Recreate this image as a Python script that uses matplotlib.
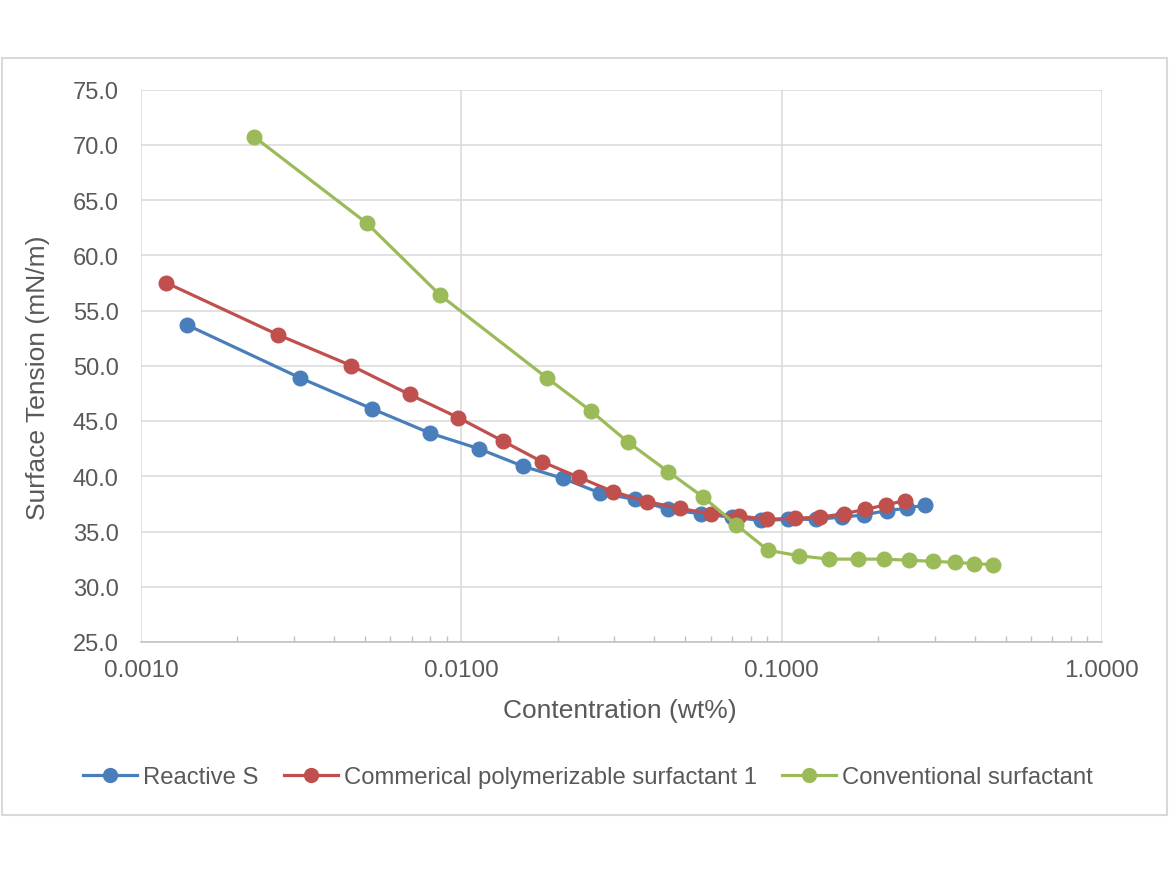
import matplotlib
matplotlib.use("Agg")
import matplotlib.pyplot as plt
from matplotlib.patches import Rectangle
from matplotlib.ticker import FixedLocator, LogLocator, FuncFormatter, NullFormatter

plt.rcParams['font.family'] = ['Liberation Sans', 'DejaVu Sans']

# Data
reactive_x = [0.00139, 0.00314, 0.00527, 0.00799, 0.01132, 0.0156, 0.0208, 0.0270,
              0.0348, 0.0443, 0.0558, 0.0700, 0.0859, 0.105, 0.128, 0.154, 0.181,
              0.213, 0.246, 0.280]
reactive_y = [53.7, 48.9, 46.1, 43.9, 42.5, 40.9, 39.8, 38.5,
              37.9, 37.0, 36.6, 36.3, 36.0, 36.1, 36.1, 36.3, 36.5,
              36.9, 37.1, 37.4]

commercial_x = [0.00120, 0.00268, 0.00454, 0.00689, 0.00979, 0.01345, 0.0179, 0.0233,
                0.0298, 0.0380, 0.0480, 0.0600, 0.0738, 0.0900, 0.1097, 0.132, 0.156,
                0.182, 0.211, 0.243]
commercial_y = [57.5, 52.8, 50.0, 47.4, 45.3, 43.2, 41.3, 39.9,
                38.6, 37.7, 37.1, 36.6, 36.4, 36.1, 36.2, 36.3, 36.6,
                37.0, 37.4, 37.8]

conventional_x = [0.00226, 0.00507, 0.00858, 0.0185, 0.0254, 0.0331, 0.0443, 0.0570,
                  0.0722, 0.0907, 0.1135, 0.1408, 0.1725, 0.209, 0.249, 0.296, 0.348,
                  0.398, 0.457]
conventional_y = [70.7, 62.9, 56.4, 48.9, 45.9, 43.1, 40.4, 38.1,
                  35.6, 33.3, 32.8, 32.5, 32.5, 32.5, 32.4, 32.3, 32.2,
                  32.1, 32.0]

series_names = ["Reactive S", "Commerical polymerizable surfactant 1", "Conventional surfactant"]
series_colors = ["#4A7EBB", "#C0504D", "#9BBB59"]

x_ticks = [0.001, 0.01, 0.1, 1.0]
y_ticks = [25, 30, 35, 40, 45, 50, 55, 60, 65, 70, 75]

W, H = 1170, 878
fig = plt.figure(figsize=(W / 100, H / 100), dpi=100)
fig.patch.set_facecolor("white")

# outer chart border
fig.patches.append(Rectangle((1.5 / W, 1 - 816 / H), (1167 - 1.5) / W, (816 - 59) / H,
                             transform=fig.transFigure, fill=False,
                             edgecolor="#D9D9D9", linewidth=1.5))

ax = fig.add_axes([141 / W, 1 - 643 / H, (1102 - 141) / W, (643 - 90.5) / H])
ax.set_xscale("log")
ax.set_xlim(0.001, 1.0)
ax.set_ylim(25, 75)

grid_c = "#D9D9D9"
txt_c = "#595959"

ax.xaxis.set_major_locator(FixedLocator(x_ticks))
ax.xaxis.set_major_formatter(FuncFormatter(lambda v, p: f"{v:.4f}"))
ax.xaxis.set_minor_locator(LogLocator(base=10, subs=range(2, 10)))
ax.xaxis.set_minor_formatter(NullFormatter())
ax.yaxis.set_major_locator(FixedLocator(y_ticks))
ax.yaxis.set_major_formatter(FuncFormatter(lambda v, p: f"{v:.1f}"))

ax.grid(True, which="major", color=grid_c, linewidth=1.1)
ax.set_axisbelow(True)
for s in ["top", "right", "left"]:
    ax.spines[s].set_visible(False)
ax.spines["bottom"].set_color("#BFBFBF")
ax.spines["bottom"].set_linewidth(1.1)

ax.tick_params(axis="x", which="major", length=0, pad=12, labelsize=17.5, labelcolor=txt_c)
ax.tick_params(axis="x", which="minor", direction="in", length=4, width=1, color="#BFBFBF")
ax.tick_params(axis="y", which="major", length=0, pad=16, labelsize=17, labelcolor=txt_c)

series = [(reactive_x, reactive_y), (commercial_x, commercial_y), (conventional_x, conventional_y)]
for (xs, ys), name, c in zip(series, series_names, series_colors):
    ax.plot(xs, ys, color=c, linewidth=2.3, marker="o", markersize=10.5,
            markerfacecolor=c, markeredgecolor=c, label=name, zorder=3)

fig.text(620 / W, 1 - 711 / H, "Contentration (wt%)", ha="center", va="center",
         fontsize=19, color=txt_c)
fig.text(38 / W, 1 - 378 / H, "Surface Tension (mN/m)", ha="center", va="center",
         rotation=90, fontsize=19, color=txt_c)

handles, labels = ax.get_legend_handles_labels()
leg = fig.legend(handles, labels, loc="center", bbox_to_anchor=(588 / W, 1 - 778 / H),
                 ncol=3, frameon=False, fontsize=17.2, handlelength=2.26,
                 handletextpad=0.25, columnspacing=1.05, borderaxespad=0, markerscale=0.95)
for t in leg.get_texts():
    t.set_color(txt_c)

fig.savefig("out.png", dpi=100, facecolor="white")
